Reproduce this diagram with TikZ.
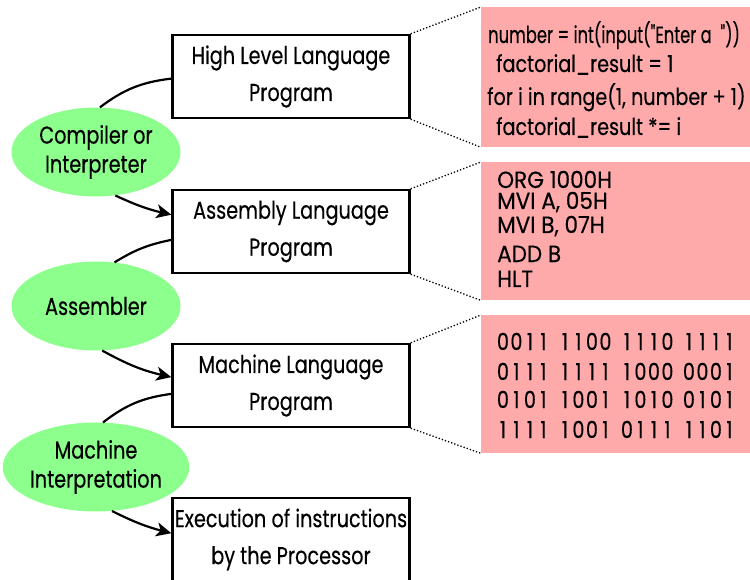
\documentclass[tikz,border=0pt]{standalone}
\usepackage{fontspec}
\usepackage{graphicx}
\setmainfont{Poppins}[FakeStretch=0.79, FakeBold=0.3]
\newfontfamily\codefont{Poppins}[FakeStretch=0.82, FakeBold=0.3]
\newfontfamily\asmfont{Poppins}[FakeStretch=0.92, FakeBold=0.3]
\usetikzlibrary{shapes.geometric,arrows.meta}
\definecolor{codepink}{RGB}{255,170,170}
\definecolor{toolgreen}{RGB}{140,255,140}
\newcommand\dgbox[1]{\makebox[13.5pt][c]{#1}}
\def\bq#1#2#3#4{\dgbox{#1}\dgbox{#2}\dgbox{#3}\dgbox{#4}}
\newcommand\bgap{\hspace{8pt}}
\begin{document}
\begin{tikzpicture}[x=1pt,y=-1pt,
  progbox/.style={draw, line width=2.4pt, minimum width=237pt, minimum height=83pt, inner sep=0pt, align=center, font=\fontsize{24.4}{37}\selectfont},
  toolell/.style={ellipse, fill=toolgreen, minimum width=169pt, minimum height=89pt, inner sep=0pt, align=center, font=\fontsize{24.4}{29}\selectfont},
  codebg/.style={fill=codepink, draw=none, anchor=north west, minimum width=280pt, inner sep=0pt},
  codeline/.style={anchor=base west, inner sep=0pt, font=\codefont\fontsize{23.4}{26}\selectfont},
  asmline/.style={anchor=base west, inner sep=0pt, font=\asmfont\fontsize{23.4}{26}\selectfont},
  conn/.style={line width=2.2pt},
  arr/.style={conn, -{Stealth[length=15pt,width=14pt,inset=4pt]}},
  zoomline/.style={dotted, line width=1.3pt}]
\useasboundingbox (0,0) rectangle (750,580);

% code backgrounds
\node[codebg, minimum height=140pt] (cA) at (481,7) {};
\node[codebg, minimum height=138pt] (cB) at (481,162) {};
\node[codebg, minimum height=138pt] (cC) at (481,315) {};

% program boxes
\node[progbox] (hl) at (291,76.5) {High Level Language\\Program};
\node[progbox] (al) at (291,231.5) {Assembly Language\\Program};
\node[progbox] (ml) at (291,385.5) {Machine Language\\Program};
\node[progbox] (ex) at (291,539.5) {\raisebox{-3pt}{Execution of instructions}\\\raisebox{-3pt}{by the Processor}};

% tools
\node[toolell] (c1) at (96,152) {Compiler or\\Interpreter};
\node[toolell] (c2) at (96,306) {Assembler};
\node[toolell] (c3) at (96,467) {\raisebox{3pt}{Machine}\\\raisebox{3pt}{Interpretation}};

% connectors
\draw[conn] (c1.85) to[bend left=15] (hl.181);
\draw[arr] (c1.-66) to[bend right=6] (al.172);
\draw[conn] (c2.67) to[bend left=10] (al.184);
\draw[arr] (c2.-82) to[bend right=8] (ml.176);
\draw[conn] (c3.81) to[bend left=15] (ml.184);
\draw[arr] (c3.-70) to[bend right=6] (ex.177);

% zoom lines
\draw[zoomline] (hl.north east) -- (cA.north west);
\draw[zoomline] (hl.south east) -- (cA.south west);
\draw[zoomline] (al.north east) -- (cB.north west);
\draw[zoomline] (al.south east) -- (cB.south west);
\draw[zoomline] (ml.north east) -- (cC.north west);
\draw[zoomline] (ml.south east) -- (cC.south west);

% code lines
\node[codeline] (a1) at (488,43) {\scalebox{0.85}[1]{number = int(input("Enter a\ \ "))}};
\node[codeline] (a2) at (496,72) {factorial\_result = 1};
\node[codeline] (a3) at (487,105) {for i in range(1, number + 1)};
\node[codeline] (a4) at (496,135) {factorial\_result *= i};

\node[asmline] (b1) at (497,188) {ORG 1000H};
\node[asmline] (b2) at (497,209) {MVI A, 05H};
\node[asmline] (b3) at (497,233) {MVI B, 07H};
\node[asmline] (b4) at (497,262) {ADD B};
\node[asmline] (b5) at (497,287) {HLT};

\node[codeline] (m1) at (496,350) {\bq0011\bgap\bq1100\bgap\bq1110\bgap\bq1111};
\node[codeline] (m2) at (496,380) {\bq0111\bgap\bq1111\bgap\bq1000\bgap\bq0001};
\node[codeline] (m3) at (496,408) {\bq0101\bgap\bq1001\bgap\bq1010\bgap\bq0101};
\node[codeline] (m4) at (496,438) {\bq1111\bgap\bq1001\bgap\bq0111\bgap\bq1101};
\end{tikzpicture}
\end{document}
